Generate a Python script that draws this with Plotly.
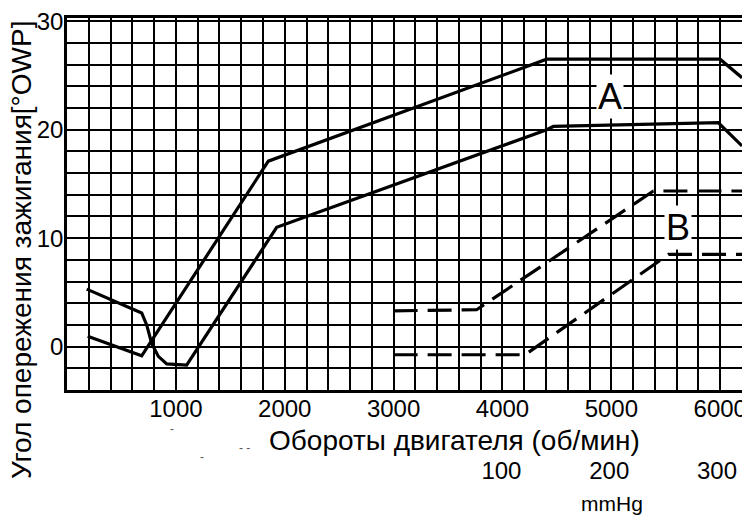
import plotly.graph_objects as go

# curve A: ignition advance vs engine speed (rpm, degrees)
a_upper_rpm = [190, 686, 1849, 4406, 5998, 6200]
a_upper_deg = [0.95, -0.85, 17.1, 26.5, 26.5, 24.8]
a_lower_rpm = [181, 686, 732, 778, 839, 916, 1099, 1926, 4406, 4467, 5982, 6200]
a_lower_deg = [5.3, 3.1, 2.0, 0.3, -0.9, -1.6, -1.7, 11.0, 20.0, 20.3, 20.65, 18.5]

# curve B: vacuum advance (mmHg, degrees)
b_upper_mmhg = [0, 77, 241, 325]
b_upper_deg = [3.3, 3.4, 14.35, 14.35]
b_lower_mmhg = [0, 122, 255, 325]
b_lower_deg = [-0.75, -0.75, 8.5, 8.5]

rpm_ticks = [1000, 2000, 3000, 4000, 5000, 6000]
deg_ticks = [0, 10, 20, 30]
mmhg_ticks = [100, 200, 300]

FONT = 'Liberation Sans, Arial, sans-serif'
solid = dict(color='black', width=3.2)
dashed = dict(color='black', width=3.2, dash='24px,10px')

fig = go.Figure()
fig.add_trace(go.Scatter(x=a_upper_rpm, y=a_upper_deg, mode='lines', line=solid, name='A'))
fig.add_trace(go.Scatter(x=a_lower_rpm, y=a_lower_deg, mode='lines', line=solid, name='A'))
fig.add_trace(go.Scatter(x=b_upper_mmhg, y=b_upper_deg, mode='lines', line=dashed, name='B', xaxis='x2'))
fig.add_trace(go.Scatter(x=b_lower_mmhg, y=b_lower_deg, mode='lines', line=dashed, name='B', xaxis='x2'))

grid = dict(showgrid=True, gridcolor='black', gridwidth=1.7)

fig.update_layout(
    width=750, height=520,
    margin=dict(l=59, r=16, t=10, b=0),
    paper_bgcolor='white', plot_bgcolor='white',
    showlegend=False,
    font=dict(family=FONT, color='black'),
    xaxis=dict(range=[0, 6200], tickvals=rpm_ticks, ticks='', **grid,
               minor=dict(tick0=0, dtick=200, **grid),
               showline=True, linecolor='black', linewidth=2.5, mirror=True,
               zeroline=False, tickfont=dict(size=24), ticklabelstandoff=-5,
               ticklabeloverflow='allow', anchor='y', automargin=False),
    yaxis=dict(range=[-4, 30.3], domain=[0.2706, 1], tickvals=deg_ticks, ticks='', **grid,
               minor=dict(tick0=0, dtick=2, **grid),
               showline=True, linecolor='black', linewidth=2.5, mirror=True,
               zeroline=False, tickfont=dict(size=24), ticklabelstandoff=-4,
               ticklabeloverflow='allow', automargin=False),
    xaxis2=dict(overlaying='x', anchor='free', position=0.145, side='bottom',
                range=[-303, 323.2], tickvals=mmhg_ticks, ticks='', showgrid=False,
                showline=False, zeroline=False, tickfont=dict(size=24),
                ticklabeloverflow='allow', automargin=False),
)

common = dict(xref='paper', yref='paper', showarrow=False, xanchor='center', yanchor='middle')
fig.add_annotation(text='Обороты двигателя (об/мин)', x=0.5748, y=0.1725,
                   font=dict(size=28), **common)
fig.add_annotation(text='Угол опережения зажигания[°OWP]', x=-0.0681, y=0.545,
                   textangle=-90, font=dict(size=28), **common)
fig.add_annotation(text='mmHg', x=0.807, y=0.049, font=dict(size=21), **common)
fig.add_annotation(text='A', x=4987, y=23.1, showarrow=False, font=dict(size=36),
                   bgcolor='white', borderpad=1)
fig.add_annotation(text='B', x=5612, y=11.0, showarrow=False, font=dict(size=36),
                   bgcolor='white', borderpad=1)
# small specks from the scan
for sx, sy, st in [(0.1556, 0.194, '-'), (0.2, 0.139, '-'), (0.2637, 0.157, '- -')]:
    fig.add_annotation(text=st, x=sx, y=sy, font=dict(size=12, color='#555'), **common)

fig.write_html('out.html')
